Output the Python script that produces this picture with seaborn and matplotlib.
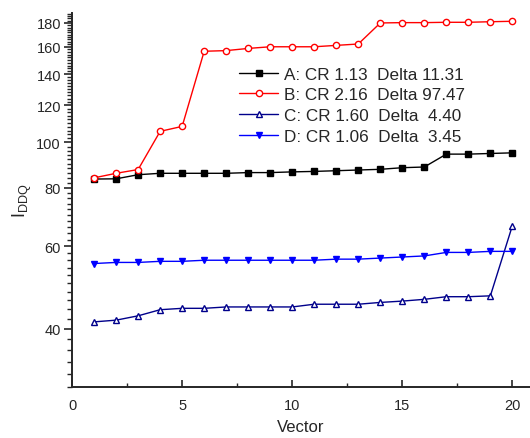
import numpy as np
import pandas as pd
import matplotlib
matplotlib.use("Agg")
import matplotlib.pyplot as plt
import matplotlib.ticker as mticker
import seaborn as sns

# Data
vectors = list(range(1, 21))
series_a = [83.5, 83.6, 85.3, 85.9, 85.9, 85.9, 85.9, 86.2, 86.2, 86.5,
            86.7, 87.0, 87.3, 87.6, 88.3, 88.6, 94.4, 94.4, 94.7, 95.0]
series_b = [84.0, 85.9, 87.5, 105.6, 108.2, 156.6, 157.1, 158.8, 160.1, 160.1,
            160.1, 161.2, 162.3, 180.0, 180.3, 180.3, 180.6, 180.6, 181.1, 181.5]
series_c = [41.35, 41.7, 42.6, 43.9, 44.2, 44.2, 44.5, 44.5, 44.5, 44.5,
            45.1, 45.1, 45.1, 45.5, 45.8, 46.2, 46.8, 46.8, 47.0, 66.4]
series_d = [55.1, 55.4, 55.4, 55.7, 55.7, 56.0, 56.0, 56.0, 56.0, 56.0,
            56.0, 56.3, 56.3, 56.6, 56.9, 57.2, 58.2, 58.2, 58.5, 58.5]
labels = ["A: CR 1.13  Delta 11.31", "B: CR 2.16  Delta 97.47",
          "C: CR 1.60  Delta  4.40", "D: CR 1.06  Delta  3.45"]
y_major = [40, 60, 80, 100, 120, 140, 160, 180]
x_major = [0, 5, 10, 15, 20]

sns.set_style("ticks")
plt.rcParams["font.family"] = ["Liberation Sans", "DejaVu Sans"]
plt.rcParams["mathtext.fontset"] = "custom"
plt.rcParams["mathtext.rm"] = "Liberation Sans"

styles = [
    dict(color="black", marker="s", markerfacecolor="black", ms=4.2),
    dict(color="#ff0000", marker="o", markerfacecolor="white", ms=4.5),
    dict(color="#00008b", marker="^", markerfacecolor="white", ms=4.5),
    dict(color="#0000ff", marker="v", markerfacecolor="#0000ff", ms=5),
]

fig = plt.figure(figsize=(5.3, 4.39), dpi=100)
ax = fig.add_axes([0.136, 0.116, 0.864, 0.852])

for vals, lab, st in zip([series_a, series_b, series_c, series_d], labels, styles):
    df = pd.DataFrame({"Vector": vectors, "IDDQ": vals})
    sns.lineplot(data=df, x="Vector", y="IDDQ", ax=ax, label=lab,
                 color=st["color"], marker=st["marker"],
                 markerfacecolor=st["markerfacecolor"],
                 markeredgecolor=st["color"], markersize=st["ms"],
                 markeredgewidth=1.0, linewidth=1.0)

ax.set_yscale("log")
ax.set_ylim(30, 189)
ax.set_xlim(0, 20.8)
ax.yaxis.set_major_locator(mticker.FixedLocator(y_major))
ax.yaxis.set_major_formatter(mticker.FixedFormatter([str(v) for v in y_major]))
ax.yaxis.set_minor_locator(mticker.FixedLocator(
    [v for v in range(30, 190, 2) if v not in y_major]))
ax.yaxis.set_minor_formatter(mticker.NullFormatter())
ax.xaxis.set_major_locator(mticker.FixedLocator(x_major))
ax.xaxis.set_minor_locator(mticker.MultipleLocator(2.5))

ax.tick_params(axis="y", which="major", direction="out", length=6, width=1.2, labelsize=10.5, pad=2)
ax.tick_params(axis="y", which="minor", direction="out", length=3.5, width=1.0)
ax.tick_params(axis="x", which="major", direction="in", length=5, width=1.2, labelsize=10.5, pad=8)
ax.tick_params(axis="x", which="minor", direction="in", length=3, width=1.0)

sns.despine(ax=ax)
for sp in ["left", "bottom"]:
    ax.spines[sp].set_linewidth(1.4)

ax.set_xlabel("Vector", fontsize=12, labelpad=5)
ax.set_ylabel(r"$\mathregular{I_{DDQ}}$", fontsize=13, labelpad=2)

ax.legend(loc="upper left", bbox_to_anchor=(0.35, 0.875), frameon=False,
          fontsize=12.3, handlelength=2.3, handletextpad=0.3,
          labelspacing=0.33, borderaxespad=0, numpoints=1)

fig.savefig("out.png", dpi=100)
